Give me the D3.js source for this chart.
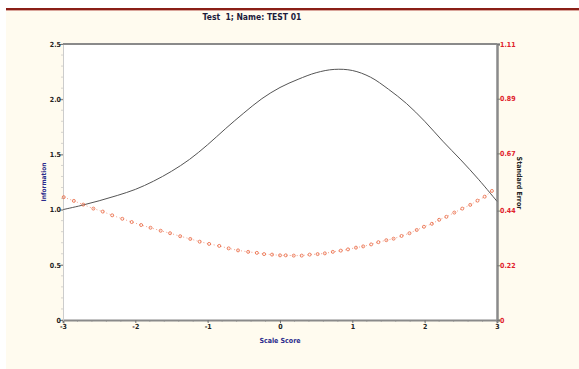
<!DOCTYPE html>
<meta charset="utf-8">
<head>
<style>
  body { margin: 0; background: #fff; }
  text { font-family: "DejaVu Sans Condensed", "Liberation Sans Narrow", "Liberation Sans", sans-serif; font-stretch: condensed; font-weight: bold; }
</style>
</head>
<body>
<script src="https://d3js.org/d3.v7.min.js"></script>
<svg width="579" height="369"></svg>
<script>
// information curve (scale score -> information)
var infoTheta = [-3, -2.75, -2.5, -2.25, -2, -1.75, -1.5, -1.25, -1, -0.75, -0.5, -0.25, 0,
                 0.25, 0.5, 0.75, 1, 1.25, 1.5, 1.75, 2, 2.25, 2.5, 2.75, 3];
var infoValues = [1.00, 1.037, 1.08, 1.128, 1.183, 1.257, 1.347, 1.455, 1.588, 1.735, 1.875, 2.005, 2.106,
                  2.18, 2.24, 2.27, 2.26, 2.20, 2.09, 1.96, 1.80, 1.62, 1.45, 1.27, 1.075];

// standard error markers
var seTheta = [-2.99, -2.85, -2.72, -2.58, -2.45, -2.32, -2.18, -2.05, -1.92, -1.79, -1.65, -1.52,
               -1.38, -1.24, -1.11, -0.98, -0.84, -0.71, -0.58, -0.44, -0.32, -0.22, -0.11, 0.00,
               0.08, 0.19, 0.30, 0.41, 0.52, 0.62, 0.73, 0.84, 0.94, 1.05, 1.15, 1.26, 1.36, 1.47,
               1.57, 1.68, 1.79, 1.89, 1.99, 2.10, 2.20, 2.30, 2.41, 2.52, 2.63, 2.73, 2.83, 2.93];
var seValues = [0.494, 0.479, 0.464, 0.448, 0.436, 0.421, 0.407, 0.394, 0.382, 0.371, 0.359, 0.349,
                0.337, 0.326, 0.315, 0.306, 0.298, 0.288, 0.280, 0.274, 0.270, 0.265, 0.263, 0.260,
                0.260, 0.259, 0.259, 0.263, 0.265, 0.268, 0.274, 0.279, 0.284, 0.291, 0.296, 0.304,
                0.313, 0.321, 0.327, 0.338, 0.349, 0.362, 0.375, 0.387, 0.403, 0.415, 0.432, 0.448,
                0.463, 0.480, 0.496, 0.519];

var xTicks = [-3, -2, -1, 0, 1, 2, 3];
var infoTicks = [0, 0.5, 1.0, 1.5, 2.0, 2.5];
var seTicks = [0, 0.22, 0.44, 0.67, 0.89, 1.11];

var svg = d3.select("svg");
var plotL = 63, plotR = 497, plotT = 44, plotB = 320;

// page frame
svg.append("rect").attr("x", 6).attr("y", 9).attr("width", 573).attr("height", 360).attr("fill", "#fffbef");
svg.append("line").attr("x1", 6).attr("x2", 579).attr("y1", 9).attr("y2", 9)
    .attr("stroke", "#8a1f17").attr("stroke-width", 2);
svg.append("line").attr("x1", 6).attr("x2", 579).attr("y1", 10.5).attr("y2", 10.5)
    .attr("stroke", "#d9a49a").attr("stroke-width", 1);

svg.append("text").attr("x", 252).attr("y", 20).attr("text-anchor", "middle")
    .style("white-space", "pre")
    .attr("font-size", "8.5px").attr("fill", "#1c1c3c").text("Test  1; Name: TEST 01");

var x = d3.scaleLinear().domain([-3, 3]).range([plotL, plotR]);
var yInfo = d3.scaleLinear().domain([0, 2.5]).range([plotB, plotT]);
var ySe = d3.scaleLinear().domain([0, 1.11]).range([plotB, plotT]);

svg.append("rect").attr("x", plotL).attr("y", plotT).attr("width", plotR - plotL).attr("height", plotB - plotT)
    .attr("fill", "#fff");

// minor ticks
var g = svg.append("g");
g.selectAll(".mx").data(d3.range(-3, 3.001, 0.2)).enter().append("line")
    .attr("x1", d => x(d)).attr("x2", d => x(d)).attr("y1", plotB).attr("y2", plotB + 2)
    .attr("stroke", "#999").attr("stroke-width", 0.6);
g.selectAll(".my").data(d3.range(0, 2.501, 0.1)).enter().append("line")
    .attr("x1", plotL - 2).attr("x2", plotL).attr("y1", d => yInfo(d)).attr("y2", d => yInfo(d))
    .attr("stroke", "#bbb").attr("stroke-width", 0.6);

// axes
var xAxis = svg.append("g").attr("transform", "translate(0," + plotB + ")")
    .call(d3.axisBottom(x).tickValues(xTicks).tickFormat(d => String(d)).tickSize(3));
var yAxis = svg.append("g").attr("transform", "translate(" + plotL + ",0)")
    .call(d3.axisLeft(yInfo).tickValues(infoTicks).tickFormat(d => d === 0 ? "0" : d.toFixed(1)).tickSize(3));
var y2Axis = svg.append("g").attr("transform", "translate(" + plotR + ",0)")
    .call(d3.axisRight(ySe).tickValues(seTicks).tickFormat(d => d === 0 ? "0" : d.toFixed(2)).tickSize(3));

[xAxis, yAxis, y2Axis].forEach(function (a) {
    a.selectAll("text").attr("font-size", "7px").attr("font-family", null);
    a.selectAll("line").attr("stroke", "#777");
});
xAxis.select(".domain").attr("stroke", "#8a8a8a").attr("stroke-width", 2);
yAxis.select(".domain").attr("stroke", "#ccc").attr("stroke-width", 1);
y2Axis.select(".domain").attr("stroke", "#8a8a8a").attr("stroke-width", 2.5);
xAxis.selectAll("text").attr("fill", "#222").attr("y", 4);
yAxis.selectAll("text").attr("fill", "#222").attr("x", -2);
y2Axis.selectAll("text").attr("fill", "#e0202a").attr("x", 3);

svg.append("line").attr("x1", plotL).attr("x2", plotR).attr("y1", plotT).attr("y2", plotT)
    .attr("stroke", "#8a8a8a").attr("stroke-width", 2);

// information line
svg.append("path")
    .datum(infoTheta.map((t, i) => [t, infoValues[i]]))
    .attr("fill", "none").attr("stroke", "#555").attr("stroke-width", 1)
    .attr("d", d3.line().x(d => x(d[0])).y(d => yInfo(d[1])).curve(d3.curveCatmullRom));

// standard error dotted line + circles
var seData = seTheta.map((t, i) => [t, seValues[i]]);
svg.append("path").datum(seData)
    .attr("fill", "none").attr("stroke", "#f08a70").attr("stroke-width", 0.8).attr("stroke-dasharray", "1,2.5")
    .attr("d", d3.line().x(d => x(d[0])).y(d => ySe(d[1])));
svg.selectAll(".se").data(seData).enter().append("circle")
    .attr("cx", d => x(d[0])).attr("cy", d => ySe(d[1])).attr("r", 1.5)
    .attr("fill", "none").attr("stroke", "#e8643e").attr("stroke-width", 0.8);

// axis titles
svg.append("text").attr("transform", "translate(46,182) rotate(-90)").attr("text-anchor", "middle")
    .attr("font-size", "6.5px").attr("fill", "#2b2b8c").text("Information");
svg.append("text").attr("transform", "translate(517,183) rotate(90)").attr("text-anchor", "middle")
    .attr("font-size", "7px").attr("fill", "#222").text("Standard Error");
svg.append("text").attr("x", 280).attr("y", 343).attr("text-anchor", "middle")
    .attr("font-size", "7px").attr("fill", "#2b2b8c").text("Scale Score");
</script>
</body>
